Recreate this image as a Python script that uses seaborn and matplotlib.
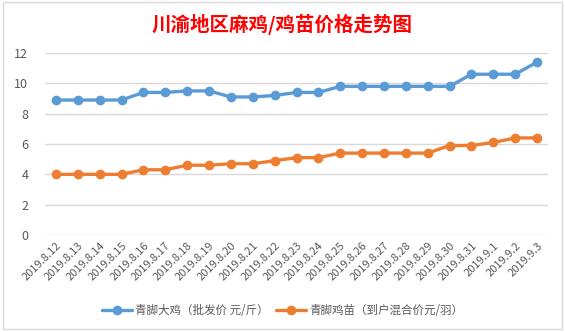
import matplotlib
matplotlib.use("Agg")
import matplotlib.pyplot as plt
import seaborn as sns
import pandas as pd
from matplotlib.patches import Rectangle

dates = ["2019.8.12", "2019.8.13", "2019.8.14", "2019.8.15", "2019.8.16", "2019.8.17",
         "2019.8.18", "2019.8.19", "2019.8.20", "2019.8.21", "2019.8.22", "2019.8.23",
         "2019.8.24", "2019.8.25", "2019.8.26", "2019.8.27", "2019.8.28", "2019.8.29",
         "2019.8.30", "2019.8.31", "2019.9.1", "2019.9.2", "2019.9.3"]
chicken = [8.9, 8.9, 8.9, 8.9, 9.4, 9.4, 9.5, 9.5, 9.1, 9.1, 9.2, 9.4,
           9.4, 9.8, 9.8, 9.8, 9.8, 9.8, 9.8, 10.6, 10.6, 10.6, 11.4]
chick = [4.0, 4.0, 4.0, 4.0, 4.3, 4.3, 4.6, 4.6, 4.7, 4.7, 4.9, 5.1,
         5.1, 5.4, 5.4, 5.4, 5.4, 5.4, 5.9, 5.9, 6.1, 6.4, 6.4]
series_names = ["青脚大鸡（批发价 元/斤）", "青脚鸡苗（到户混合价元/羽）"]
title = "川渝地区麻鸡/鸡苗价格走势图"
yticks = [0, 2, 4, 6, 8, 10, 12]

df = pd.DataFrame({
    "date": dates * 2,
    "value": chicken + chick,
    "series": [series_names[0]] * len(dates) + [series_names[1]] * len(dates),
})

sns.set_theme(style="white")
plt.rcParams["font.family"] = ["Noto Sans CJK SC", "DejaVu Sans"]

fig = plt.figure(figsize=(5.65, 3.32), dpi=100)
fig.patch.set_facecolor("white")

# chart-area border
fig.add_artist(Rectangle((3 / 565, 1 - 329 / 332), 559 / 565, 327 / 332,
                         transform=fig.transFigure, fill=False,
                         edgecolor="#D9D9D9", linewidth=1.0))

ax = fig.add_axes([45 / 565, 1 - 235 / 332, 503 / 565, 182 / 332])
palette = {series_names[0]: "#5B9BD5", series_names[1]: "#ED7D31"}
sns.lineplot(data=df, x="date", y="value", hue="series", palette=palette,
             marker="o", markersize=7, markeredgewidth=0, linewidth=2.4,
             sort=False, ax=ax, legend=True)

ax.set_xlim(-0.5, len(dates) - 0.5)
ax.set_ylim(0, 12)
ax.set_yticks(yticks)
ax.set_yticklabels([str(v) for v in yticks])
ax.set_xticks(range(len(dates)))
ax.set_xticklabels(dates, rotation=45, ha="right", rotation_mode="anchor")
ax.tick_params(axis="x", labelsize=8, colors="#595959", length=0, pad=4)
ax.tick_params(axis="y", labelsize=9, colors="#595959", length=0, pad=12)
ax.grid(axis="y", color="#D9D9D9", linewidth=1)
ax.set_axisbelow(True)
for s in ax.spines.values():
    s.set_visible(False)
ax.set_xlabel("")
ax.set_ylabel("")

handles, labels = ax.get_legend_handles_labels()
ax.legend_.remove()
fig.legend(handles, labels, loc="center", bbox_to_anchor=(0.5, 1 - 311 / 332),
           ncol=2, frameon=False, fontsize=8.3, handlelength=2.6,
           columnspacing=0.6, handletextpad=0.3, labelcolor="#595959")

fig.text(0.5, 1 - 24 / 332, title, ha="center", va="center", color="#FF0000",
         fontsize=14, fontweight="semibold")

fig.savefig("out.png", dpi=100)
